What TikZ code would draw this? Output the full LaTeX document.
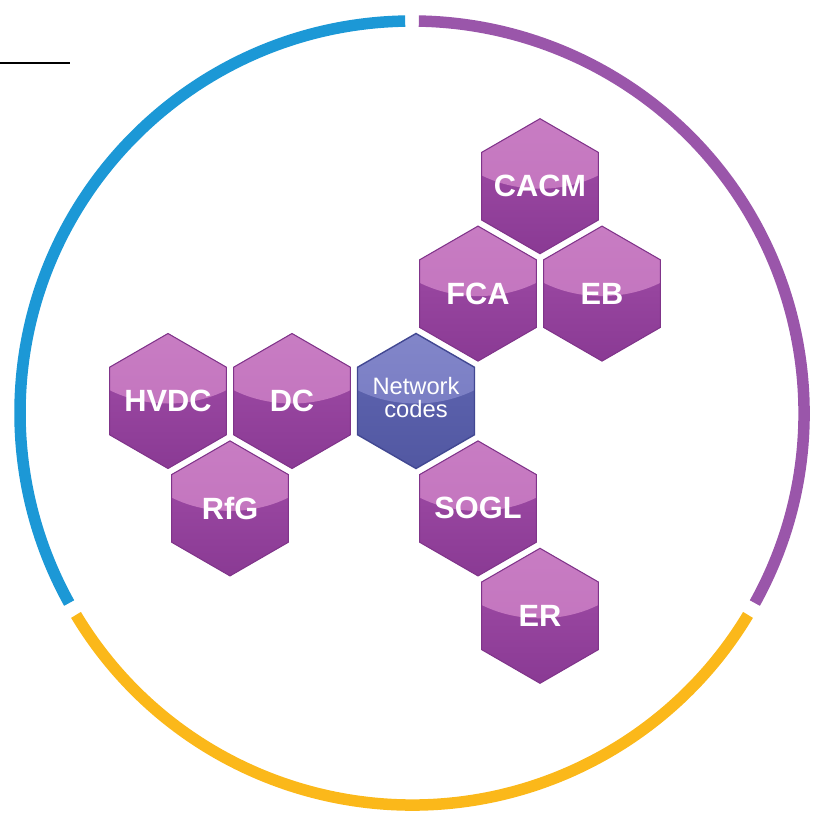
\documentclass[tikz,border=0pt]{standalone}
\usepackage{fontspec}
\setmainfont{Liberation Sans}
\usepackage{tikz}
\usetikzlibrary{calc,shapes.geometric}

\definecolor{ringblue}{RGB}{28,152,214}
\definecolor{ringpurple}{RGB}{154,86,170}
\definecolor{ringyellow}{RGB}{251,184,26}
\definecolor{hextop}{RGB}{206,134,200}
\definecolor{hexmid}{RGB}{192,112,188}
\definecolor{hexlow}{RGB}{162,78,168}
\definecolor{hexbot}{RGB}{138,58,148}
\definecolor{hexedge}{RGB}{128,52,138}
\definecolor{nctop}{RGB}{140,144,208}
\definecolor{ncmid}{RGB}{116,120,192}
\definecolor{nclow}{RGB}{96,102,178}
\definecolor{ncbot}{RGB}{82,88,162}
\definecolor{ncedge}{RGB}{66,72,146}

% text box of zero width, so that every hexagon keeps the same size
\newcommand{\hexname}[1]{\makebox[0pt]{#1}}

\begin{document}
\begin{tikzpicture}[
      hexa/.style={
            regular polygon, regular polygon sides=6,
            shape border rotate=30,
            minimum size=2.7cm, inner sep=0pt, outer sep=0pt
        },
      code/.style={
            hexa, draw=hexedge, line width=0.6pt,
            top color=hexlow, bottom color=hexbot,
            path picture={\shade[top color=hextop, bottom color=hexmid]
              ($(path picture bounding box.center)+(0,1.7)$) ellipse (2.2 and 1.75);},
            text=white, font=\bfseries\fontsize{17.5}{20}\selectfont
        },
      hub/.style={
            hexa, draw=ncedge, line width=0.8pt,
            top color=nclow, bottom color=ncbot,
            path picture={\shade[top color=nctop, bottom color=ncmid]
              ($(path picture bounding box.center)+(0,1.7)$) ellipse (2.2 and 1.75);},
            text=white, font=\fontsize{13.5}{13.5}\selectfont
        },
      ring/.style={line width=0.23cm}
      ]
    \useasboundingbox (0,0) rectangle (16.24,-16.36);
    \coordinate (c) at (8.24,-8.26);

    \foreach \a/\b/\col in {91/209/ringblue, 211/329/ringyellow, 331/449/ringpurple}
      \draw[ring, \col] ($(c)+(\a:7.84)$) arc[start angle=\a, end angle=\b, radius=7.84];

    \draw[line width=0.04cm] (0,-1.26) -- (1.4,-1.26);

    \node[hub] (nc) at (8.32,-8.02)
      {\hexname{\begin{tabular}{@{}c@{}}Network\\[-1pt]codes\end{tabular}}};
    \node[code] (dc) at ($(nc)+(-2.48,0)$) {\hexname{DC}};
    \node[code] (hvdc) at ($(nc)+(-4.96,0)$) {\hexname{HVDC}};
    \node[code] (rfg) at ($(nc)+(-3.72,-2.148)$) {\hexname{RfG}};
    \node[code] (sogl) at ($(nc)+(1.24,-2.148)$) {\hexname{SOGL}};
    \node[code] (er) at ($(nc)+(2.48,-4.296)$) {\hexname{ER}};
    \node[code] (fca) at ($(nc)+(1.24,2.148)$) {\hexname{FCA}};
    \node[code] (eb) at ($(nc)+(3.72,2.148)$) {\hexname{EB}};
    \node[code] (cacm) at ($(nc)+(2.48,4.296)$) {\hexname{CACM}};
  \end{tikzpicture}
\end{document}
